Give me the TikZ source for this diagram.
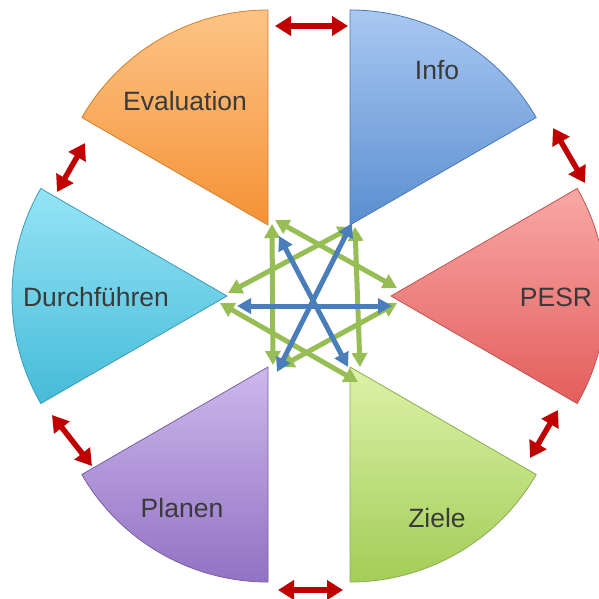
\documentclass[tikz,border=0pt]{standalone}
\usepackage{fontspec}
\setmainfont{Liberation Sans}
\usetikzlibrary{arrows.meta}
\definecolor{infoT}{HTML}{A9C8F2}
\definecolor{infoB}{HTML}{5A8ED0}
\definecolor{infoO}{HTML}{4A78B4}
\definecolor{pesrT}{HTML}{F8A8A6}
\definecolor{pesrB}{HTML}{E35E5C}
\definecolor{pesrO}{HTML}{C0504D}
\definecolor{zielT}{HTML}{DDF2A8}
\definecolor{zielB}{HTML}{A3CD58}
\definecolor{zielO}{HTML}{8AAE4A}
\definecolor{planT}{HTML}{CDB8EC}
\definecolor{planB}{HTML}{9272C4}
\definecolor{planO}{HTML}{7A5EA0}
\definecolor{durchT}{HTML}{96E4F6}
\definecolor{durchB}{HTML}{45BBD8}
\definecolor{durchO}{HTML}{3A9AB5}
\definecolor{evalT}{HTML}{FCC486}
\definecolor{evalB}{HTML}{F59236}
\definecolor{evalO}{HTML}{D08030}
\definecolor{txtgray}{HTML}{3A3A3A}
\definecolor{arrred}{HTML}{C00000}
\definecolor{arrblue}{HTML}{4A7EBB}
\definecolor{arrgreen}{HTML}{96BE55}
\tikzset{
  lbl/.style={font=\fontsize{26.5}{26.5}\selectfont, text=txtgray, inner sep=0pt},
  redarr/.style={draw=arrred, line width=5.5pt,
    {Triangle[length=16pt,width=19pt]}-{Triangle[length=16pt,width=19pt]}},
  bluearr/.style={draw=arrblue, line width=5pt,
    {Triangle[length=14pt,width=15pt]}-{Triangle[length=14pt,width=15pt]}},
  greenarr/.style={draw=arrgreen, line width=5pt,
    {Triangle[length=14pt,width=15pt]}-{Triangle[length=14pt,width=15pt]}},
  wedgeline/.style={line width=0.8pt, line join=round}
}
\begin{document}
\begin{tikzpicture}[x=1pt,y=1pt]
\clip (-309,-302) rectangle (290,296);
\fill[white] (-309,-302) rectangle (290,296);
% wedges
\foreach \a/\ct/\cb/\co in {60/infoT/infoB/infoO, 0/pesrT/pesrB/pesrO, -60/zielT/zielB/zielO, -120/planT/planB/planO, 180/durchT/durchB/durchO, 120/evalT/evalB/evalO}{
  \shade[wedgeline, top color=\ct, bottom color=\cb, draw=\co]
    (\a:82) -- ++(\a-30:215) arc[start angle=\a-30, end angle=\a+30, radius=215] -- cycle;
}
% labels
\node[lbl] (tinfo) at (128,226) {Info};
\node[lbl] (teval) at (-124,195) {Evaluation};
\node[lbl] (tdurch) at (-213,-1) {Durchführen};
\node[lbl] (tpesr) at (247,-1) {PESR};
\node[lbl] (tplan) at (-127,-212) {Planen};
\node[lbl] (tziel) at (128,-222) {Ziele};
% red arrow end points
\coordinate (r1a) at (-34,270); \coordinate (r1b) at (39,270);
\coordinate (r2a) at (244,168); \coordinate (r2b) at (276,113);
\coordinate (r3a) at (249,-114); \coordinate (r3b) at (221,-162);
\coordinate (r4a) at (-31,-294); \coordinate (r4b) at (34,-294);
\coordinate (r5a) at (-257,-119); \coordinate (r5b) at (-217,-170);
\coordinate (r6a) at (-224,153); \coordinate (r6b) at (-252,104);
\foreach \p in {1,...,6}{ \draw[redarr] (r\p a) -- (r\p b); }
% green arrows
\coordinate (g1a) at (-34,76); \coordinate (g1b) at (88,8);
\coordinate (g2a) at (43,69); \coordinate (g2b) at (-81,3);
\coordinate (g3a) at (-37,72); \coordinate (g3b) at (-36,-69);
\coordinate (g4a) at (46,69); \coordinate (g4b) at (51,-71);
\coordinate (g5a) at (-89,-7); \coordinate (g5b) at (49,-86);
\coordinate (g6a) at (88,-7); \coordinate (g6b) at (-29,-71);
\foreach \p in {1,...,6}{ \draw[greenarr] (g\p a) -- (g\p b); }
% blue arrows
\coordinate (b1a) at (-72,-10); \coordinate (b1b) at (83,-10);
\coordinate (b2a) at (-30,60); \coordinate (b2b) at (39,-71);
\coordinate (b3a) at (43,73); \coordinate (b3b) at (-32,-76);
\foreach \p in {1,2,3}{ \draw[bluearr] (b\p a) -- (b\p b); }
\end{tikzpicture}
\end{document}
